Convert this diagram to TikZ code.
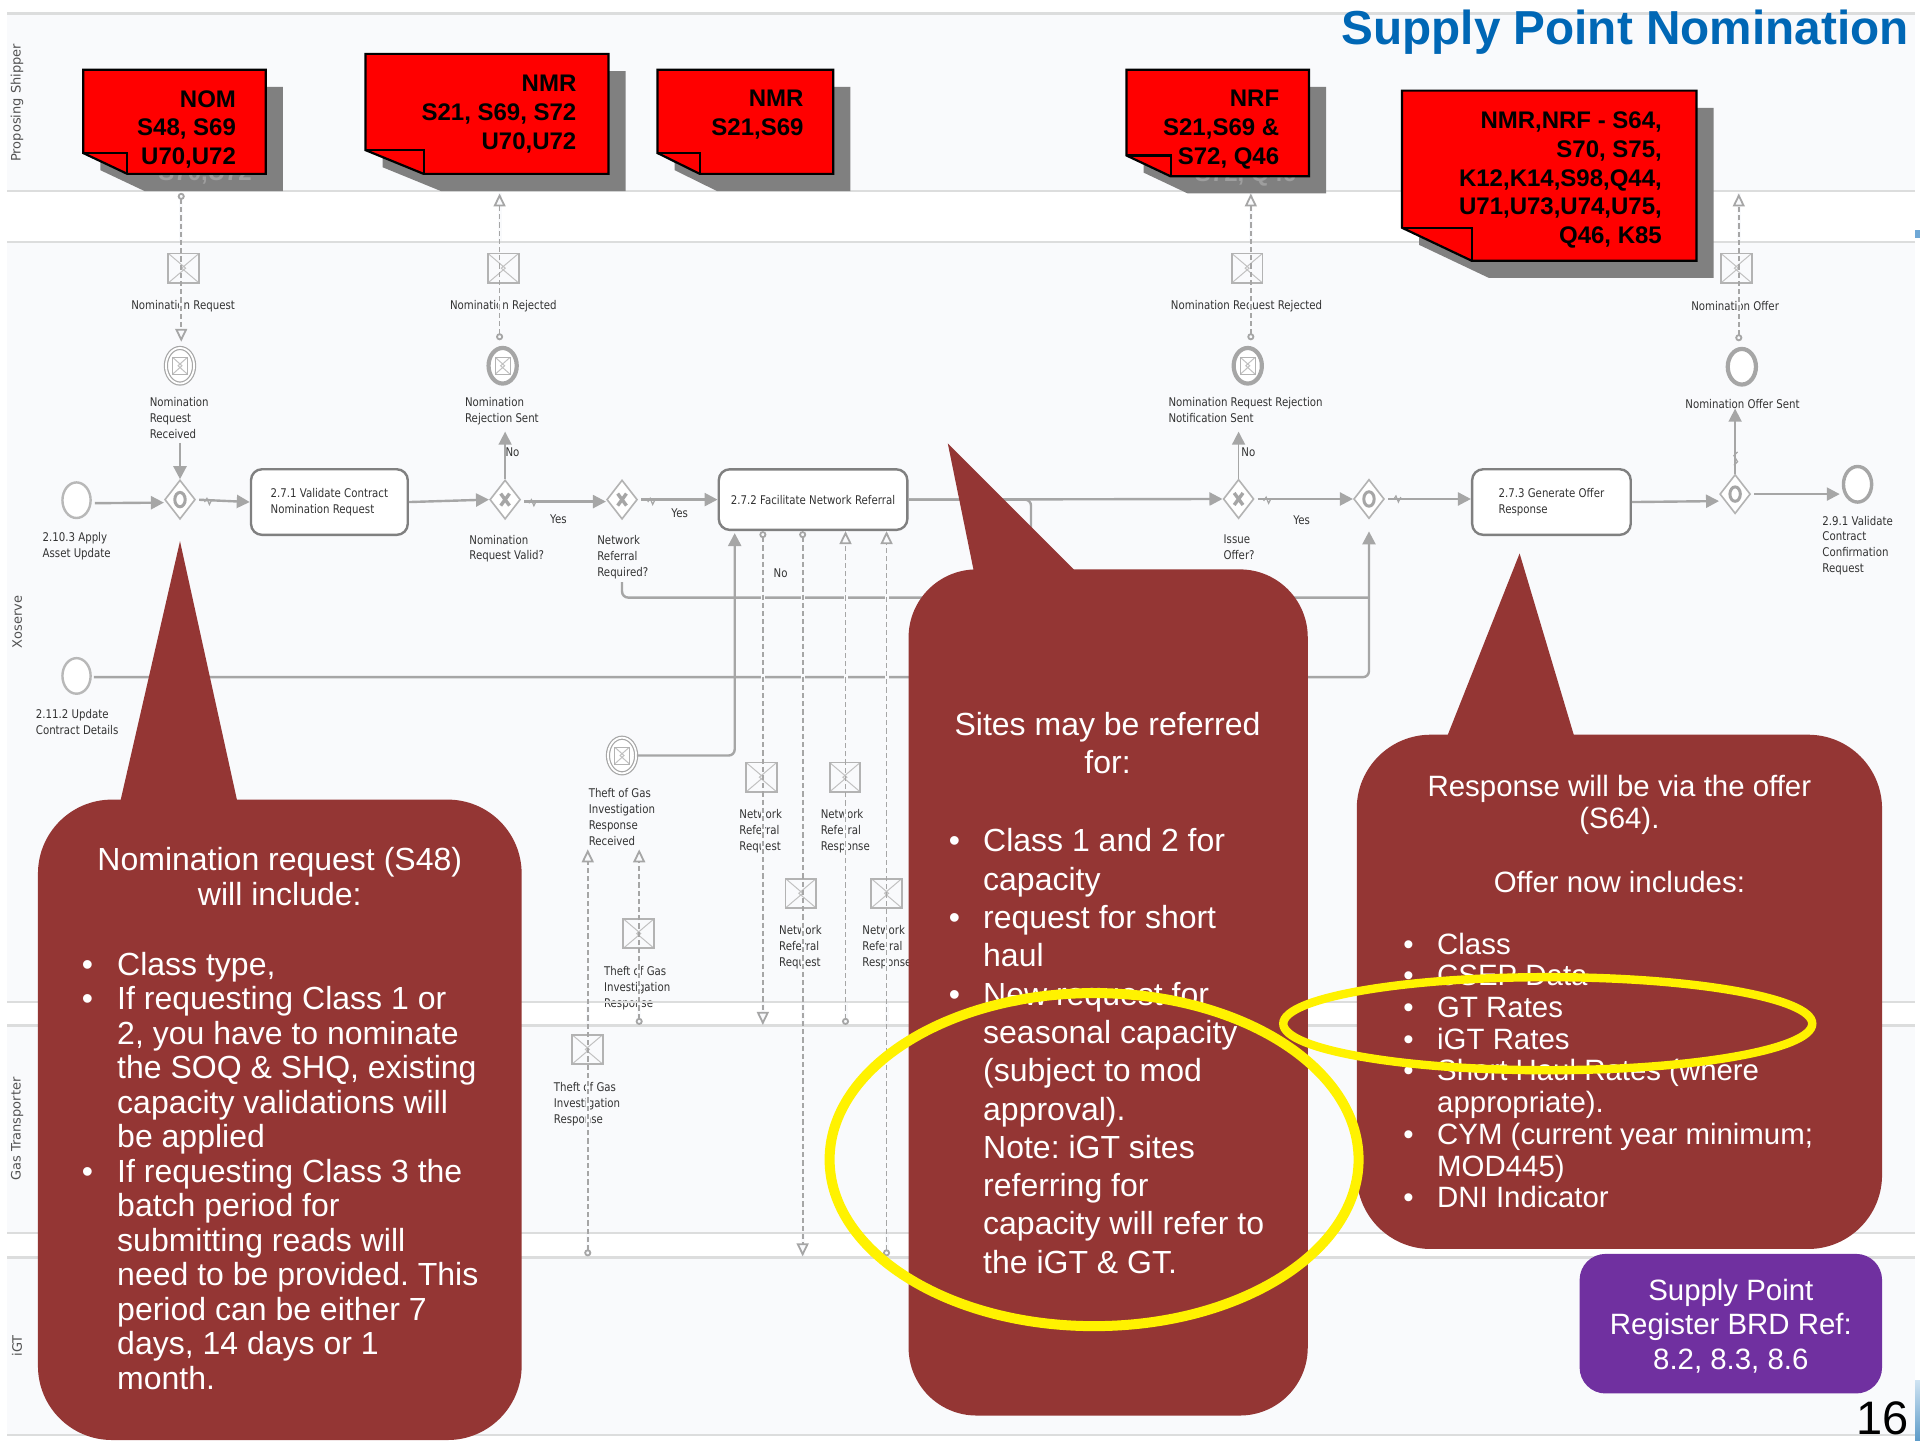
\documentclass[tikz,border=0pt]{standalone}
\usepackage{fontspec}
\setmainfont{Liberation Sans}
\newfontfamily\diafont[FakeStretch=0.85]{DejaVu Sans}
\newfontfamily\lanefont{DejaVu Sans}
\usetikzlibrary{shapes.geometric,arrows.meta,calc}
\definecolor{lanebg}{HTML}{F9FAFC}
\definecolor{laneln}{HTML}{DCDDDD}
\definecolor{bpm}{HTML}{A6A6A6}
\definecolor{bpmdark}{HTML}{808080}
\definecolor{bpmtext}{HTML}{333333}
\definecolor{callred}{HTML}{943634}
\definecolor{notered}{HTML}{FF0000}
\definecolor{noteshadow}{HTML}{808080}
\definecolor{titleblue}{HTML}{0067B5}
\definecolor{purplebox}{HTML}{7030A0}
\definecolor{skytop}{HTML}{CFE3F2}
\definecolor{skybot}{HTML}{5E9CC9}
\definecolor{slidemark}{HTML}{6FA8D6}
\tikzset{
  lab/.style={font=\diafont\fontsize{6}{7.96}\selectfont,inner sep=0pt,align=left,anchor=north west,text=bpmtext},
  labc/.style={font=\diafont\fontsize{6}{7.96}\selectfont,inner sep=0pt,anchor=center,text=bpmtext},
  lanelab/.style={font=\lanefont\fontsize{6.5}{7.5}\selectfont,rotate=90,inner sep=0pt,text=bpmtext!85},
  lanefill/.style={fill=lanebg,draw=none},
  laneline/.style={draw=laneln,line width=1.1pt},
  taskbox/.style={draw=bpmdark,line width=1.2pt,fill=white,rounded corners=5.5pt,align=left,inner sep=0pt,
     font=\diafont\fontsize{6}{7.96}\selectfont,text=bpmtext},
  evbase/.style={ellipse,minimum width=14.1pt,minimum height=17.8pt,inner sep=0pt,fill=white},
  evstart/.style={evbase,draw=bpm!80,line width=1.2pt},
  evcatch/.style={evbase,draw=bpm,line width=.6pt,double=white,double distance=.9pt},
  evthrow/.style={evbase,draw=bpm,line width=2.1pt},
  gw/.style={diamond,aspect=.78,minimum width=15.3pt,minimum height=19.6pt,inner sep=0pt,draw=bpm!85,line width=.8pt,fill=white},
  gwx/.style={gw,path picture={\draw[bpm,line width=1.7pt]
     ($(path picture bounding box.center)+(-2.2pt,-3pt)$)--($(path picture bounding box.center)+(2.2pt,3pt)$)
     ($(path picture bounding box.center)+(-2.2pt,3pt)$)--($(path picture bounding box.center)+(2.2pt,-3pt)$);}},
  gwo/.style={gw,path picture={\draw[bpm,line width=1.5pt](path picture bounding box.center) ellipse (2.6pt and 3.6pt);}},
  envl/.style={rectangle,draw=bpm!85,line width=.95pt,inner sep=0pt,minimum width=15.3pt,minimum height=14.7pt,
     path picture={\draw[bpm!70,line width=.5pt]
     (path picture bounding box.north west)--($(path picture bounding box.center)+(1pt,0)$)--(path picture bounding box.south west)
     (path picture bounding box.north east)--($(path picture bounding box.center)+(-1pt,0)$)--(path picture bounding box.south east);}},
  envs/.style={envl,minimum width=7.5pt,minimum height=8.5pt,line width=.5pt},
  flow/.style={draw=bpm,line width=1.2pt,-{Triangle[length=6.5pt,width=6.5pt]}},
  flowthin/.style={flow,line width=.8pt},
  plainflow/.style={draw=bpm,line width=1.2pt,rounded corners=3pt},
  ticks/.style={draw=bpm,line width=.6pt},
  msgline/.style={draw=bpm,line width=.9pt,dash pattern=on 2.6pt off 1.5pt,
     {Circle[open,fill=lanebg,length=3.5pt,width=3.5pt,sep=0pt]}-{Triangle[open,fill=lanebg,length=6.5pt,width=6pt]}},
  notebody/.style={fill=notered,draw=black,line width=1.1pt,line join=miter},
  noteshade/.style={fill=noteshadow,draw=none},
  notetxt/.style={font=\bfseries\fontsize{12}{14.4}\selectfont,align=right,anchor=north east,inner sep=0pt,text=black},
  ghost/.style={font=\bfseries\fontsize{12}{14.4}\selectfont,anchor=east,inner sep=0pt,text=black!38},
  callfill/.style={fill=callred,draw=none},
  calla/.style={font=\fontsize{16}{17.25}\selectfont,text=white,inner sep=0pt},
  callb/.style={font=\fontsize{16}{19.15}\selectfont,text=white,inner sep=0pt},
  callc/.style={font=\fontsize{14.7}{15.85}\selectfont,text=white,inner sep=0pt},
  ring/.style={draw=yellow,line width=#1,fill=none},
}
% one red sticky note: x1,y1,x2,y2,foldx,foldy
\newcommand{\rednote}[6]{%
  \fill[noteshade,shift={(14,14)}] (#1,#2)--(#3,#2)--(#3,#4)--(#5,#4)--(#1,#6)--cycle;}
\newcommand{\rednotetop}[6]{%
  \path[notebody] (#1,#2)--(#3,#2)--(#3,#4)--(#5,#4)--(#1,#6)--cycle;
  \draw[black,line width=1.1pt] (#1,#6)--(#5,#6)--(#5,#4);}
\newcommand{\ticmark}[2]{\draw[ticks] (#1-3,#2+1)--(#1-1,#2-2)--(#1+1,#2+3)--(#1+3,#2-1);}
\newcommand{\msgflows}{%
  \draw[msgline,shorten >=2.8pt] (c1) -- (c1 |- ev1.north);
  \draw[msgline,shorten <=2.8pt] (c2 |- ev2.north) -- (c2);
  \draw[msgline,shorten <=2.8pt] (c4 |- ev4.north) -- (c4);
  \draw[msgline,shorten <=2.8pt] (c5 |- ev5.north) -- (c5);
  \draw[msgline] (n1 |- tk2.south) -- (n1);
  \draw[msgline] (n3 |- tk2.south) -- (n3);
  \draw[msgline] (n2) -- (n2 |- tk2.south);
  \draw[msgline] (n4) -- (n4 |- tk2.south);
  \draw[msgline] (b1) -- (t1);
  \draw[msgline] (b2) -- (t2);
}
\newlength{\indA}\setlength{\indA}{17.7pt}
\newlength{\indB}\setlength{\indB}{17.2pt}
\newlength{\indC}\setlength{\indC}{16.9pt}
\frenchspacing
\begin{document}
\begin{tikzpicture}[x=0.612245pt,y=-0.612245pt]
\useasboundingbox (0,0) rectangle (1568,1176);
\fill[white] (0,0) rectangle (1568,1176);
% lanes
\fill[lanefill] (6,11) rectangle (1564,156);
\fill[lanefill] (6,197.5) rectangle (1564,818);
\fill[lanefill] (6,837.5) rectangle (1564,1007);
\fill[lanefill] (6,1027) rectangle (1564,1172);
\node[lanelab] (laneA) at (14,84) {Proposing Shipper};
\node[lanelab] (laneB) at (14,508) {Xoserve};
\node[lanelab] (laneC) at (14,922) {Gas Transporter};
\node[lanelab] (laneD) at (14,1099) {iGT};
% coordinates for free ends
\coordinate (c1) at (148,157.5);
\coordinate (c2) at (408,158);
\coordinate (c4) at (1021.5,158);
\coordinate (c5) at (1420,158);
\coordinate (n1) at (623,837);
\coordinate (n2) at (690.5,837);
\coordinate (n3) at (655.5,1026);
\coordinate (n4) at (724,1026);
\coordinate (b1) at (480,1026);
\coordinate (t1) at (480,693.6);
\coordinate (b2) at (522,837);
\coordinate (t2) at (522,693.6);
\coordinate (jt) at (600,440);
\coordinate (jr) at (1118,488);
\coordinate (jc) at (842,470);
% labels
\node[labc] (l1) at (149.5,250) {Nomination Request};
\node[labc] (l2) at (411,250) {Nomination Rejected};
\node[labc] (l3) at (1018,250) {Nomination Request Rejected};
\node[labc] (l4) at (1417,250) {Nomination Offer};
\node[lab] (l5) at (122,324) {Nomination\\Request\\Received};
\node[lab] (l6) at (379.5,324) {Nomination\\Rejection Sent};
\node[lab] (l7) at (954,324) {Nomination Request Rejection\\Notification Sent};
\node[labc] (l8) at (1423,330) {Nomination Offer Sent};
\node[lab] (l9) at (34.5,434.5) {2.10.3 Apply\\Asset Update};
\node[lab] (l10) at (29,579) {2.11.2 Update\\Contract Details};
\node[lab] (l11) at (383,436.5) {Nomination\\Request Valid?};
\node[lab] (l12) at (487.5,437) {Network\\Referral\\Required?};
\node[lab] (l13) at (999,436.5) {Issue\\Offer?};
\node[lab] (l14) at (1488,421) {2.9.1 Validate\\Contract\\Confirmation\\Request};
\node[labc] (y1) at (456,424) {Yes};
\node[labc] (y2) at (555,419.5) {Yes};
\node[labc] (y3) at (1063,424.5) {Yes};
\node[labc] (no1) at (418.5,369) {No};
\node[labc] (no2) at (1019.5,369) {No};
\node[labc] (no3) at (637.5,468) {No};
\node[lab] (l15) at (480.5,643.7) {Theft of Gas\\Investigation\\Response\\Received};
\node[lab] (l16) at (493,789) {Theft of Gas\\Investigation\\Response};
\node[lab] (l17) at (452,883.5) {Theft of Gas\\Investigation\\Response};
\node[lab] (l18) at (603.5,661) {Network\\Referral\\Request};
\node[lab] (l19) at (670,661) {Network\\Referral\\Response};
\node[lab] (l20) at (636,755.6) {Network\\Referral\\Request};
\node[lab] (l21) at (704,755.6) {Network\\Referral\\Response};
% events, gateways, tasks
\node[evstart] (s1) at (62.5,408.5) {};
\node[evstart] (s2) at (62.5,552) {};
\node[evcatch] (ev1) at (147,298.7) {};
\node[evthrow] (ev2) at (410.5,298.7) {};
\node[evthrow] (ev4) at (1019,298.7) {};
\node[evthrow] (ev5) at (1422.5,299.5) {};
\node[evcatch] (ev3) at (508,617) {};
\node[evthrow,line width=1.7pt] (end) at (1517,395.5) {};
\node[gwo] (g1) at (147,408) {};
\node[gwx] (g2) at (412.5,408) {};
\node[gwx] (g3) at (508,408) {};
\node[gwx] (g4) at (1011.5,407.5) {};
\node[gwo] (g5) at (1118,407.5) {};
\node[gwo] (g6) at (1417,403.5) {};
\node[taskbox,minimum width=78.4pt,minimum height=32.8pt] (tk1) at (269,410) {2.7.1 Validate Contract\\Nomination Request};
\node[taskbox,minimum width=94.3pt,minimum height=30.3pt] (tk2) at (664,408) {2.7.2 Facilitate Network Referral};
\node[taskbox,minimum width=79.3pt,minimum height=32.8pt] (tk3) at (1267,410) {2.7.3 Generate Offer\\Response};
% sequence flows
\draw[flow,shorten <=1.5pt] ([yshift=-1.5pt]s1.east) -- ([yshift=-1.5pt]g1.west);
\draw[flow,shorten <=29.4pt] (ev1.south) -- (g1.north);
\draw[flow,shorten <=1.5pt] (g1.east) -- (tk1.west);
\draw[flow] (tk1.east) -- (g2.west);
\draw[flowthin,shorten >=23pt] (g2.north) -- (g2.north |- ev2.south);
\draw[flow,shorten <=1.5pt] ([yshift=-1pt]g2.east) -- ([yshift=-1pt]g3.west);
\draw[flow,shorten <=1.5pt] (g3.east) -- (tk2.west);
\draw[flow] (tk2.east) -- (g4.west);
\draw[plainflow] (tk2.east) -| (jc);
\draw[flowthin,shorten >=23pt] (g4.north) -- (g4.north |- ev4.south);
\draw[flow,shorten <=1.5pt] (g4.east) -- (g5.west);
\draw[flow,shorten <=1.5pt] (g5.east) -- (g5.east -| tk3.west);
\draw[flow] (tk3.east) -- ([yshift=-3.5pt]g6.west);
\draw[flowthin,shorten >=11pt] (g6.north) -- (g6.north |- ev5.south);
\draw[flow,shorten <=1.5pt,shorten >=1pt] (g6.east) -- (g6.east -| end.west);
\draw[flow,rounded corners=3pt,shorten <=1pt,shorten >=6pt] ([yshift=-.6pt]s2.east) -| (g5.south);
\draw[plainflow,shorten <=31pt] (g3.south) |- (jr);
\draw[flow,rounded corners=3pt,shorten >=1pt] (ev3.east) -| (jt |- tk2.south);
\ticmark{170}{409}\ticmark{435}{410}\ticmark{532}{409}\ticmark{1035}{408}\ticmark{1141}{407}
\draw[ticks] (1416,380)--(1419,377)--(1416,372)--(1419,369);
% halos across text, then lane lines
\begin{scope}[msgline/.style={draw=lanebg,line width=2pt}]
\msgflows
\end{scope}
\draw[laneline] (6,11)--(1564,11);
\draw[laneline] (6,156)--(1564,156);
\draw[laneline] (6,197.5)--(1564,197.5);
\draw[laneline] (6,818)--(1564,818);
\draw[laneline] (6,837.5)--(1564,837.5);
\draw[laneline] (6,1007)--(1564,1007);
\draw[laneline] (6,1027)--(1564,1027);
\draw[laneline] (6,1172)--(1564,1172);
% envelopes
\node[envl] (m1) at (150,219) {};
\node[envl] (m2) at (411,219) {};
\node[envl] (m4) at (1018.5,219) {};
\node[envl] (m5) at (1418,219) {};
\node[envl] (m6) at (621.8,634.7) {};
\node[envl] (m7) at (690,634.7) {};
\node[envl] (m8) at (654,729.5) {};
\node[envl] (m9) at (724,729.5) {};
\node[envl] (m10) at (521.6,762.4) {};
\node[envl] (m11) at (479.7,857) {};
\node[envs] (e1) at (ev1) {};
\node[envs] (e2) at (ev2) {};
\node[envs] (e4) at (ev4) {};
\node[envs] (e3) at (ev3) {};
\msgflows
% red notes
\rednote{68}{57}{217}{142}{104}{125}
\rednote{298.5}{44}{497}{142}{346}{122.6}
\rednote{537}{57}{680.5}{142}{571.5}{125}
\rednote{920}{57}{1069}{144}{956}{127}
\rednote{1145}{74}{1385.5}{213}{1202}{186}
\node[ghost] (gh1) at (206,142) {S70,U72};
\node[ghost] (gh2) at (1059,143) {S72, Q46};
\rednotetop{68}{57}{217}{142}{104}{125}
\rednotetop{298.5}{44}{497}{142}{346}{122.6}
\rednotetop{537}{57}{680.5}{142}{571.5}{125}
\rednotetop{920}{57}{1069}{144}{956}{127}
\rednotetop{1145}{74}{1385.5}{213}{1202}{186}
\node[notetxt] (nt1) at (193,73.5) {NOM\\S48, S69\\U70,U72};
\node[notetxt] (nt2) at (471,61) {NMR\\S21, S69, S72\\U70,U72};
\node[notetxt] (nt3) at (656.5,73.5) {NMR\\S21,S69};
\node[notetxt] (nt4) at (1045,73.5) {NRF\\S21,S69 \&\\S72, Q46};
\node[notetxt] (nt5) at (1357.5,91) {NMR,NRF - S64,\\S70, S75,\\K12,K14,S98,Q44,\\U71,U73,U74,U75,\\Q46, K85};
% title
\node[font=\bfseries\fontsize{23.85}{26}\selectfont,text=titleblue,anchor=east,inner sep=0pt] (title) at (1559,26) {Supply Point Nomination};
% callouts
\fill[callfill,rounded corners=37pt] (31,653) rectangle (426,1176);
\fill[callfill] (147,442)--(97,660)--(195,660)--cycle;
\fill[callfill,rounded corners=34pt] (742,465) rectangle (1068,1156);
\fill[callfill] (774,362)--(797,475)--(877,475)--(877,465)--cycle;
\fill[callfill,rounded corners=37pt] (1108,600) rectangle (1537,1020);
\fill[callfill] (1241,452)--(1180,606)--(1287,606)--cycle;
\fill[purplebox,rounded corners=13pt] (1290,1024) rectangle (1537,1138);
% callout text
\node[calla,align=center,anchor=north] (ca1) at (228.5,692) {Nomination request (S48)\\will include:};
\node[calla,align=left,anchor=north west] (ca2) at (66.5,777) {%
\makebox[\indA][l]{•}Class type,\\
\makebox[\indA][l]{•}If requesting Class 1 or\\
\hspace*{\indA}2, you have to nominate\\
\hspace*{\indA}the SOQ \& SHQ, existing\\
\hspace*{\indA}capacity validations will\\
\hspace*{\indA}be applied\\
\makebox[\indA][l]{•}If requesting Class 3 the\\
\hspace*{\indA}batch period for\\
\hspace*{\indA}submitting reads will\\
\hspace*{\indA}need to be provided. This\\
\hspace*{\indA}period can be either 7\\
\hspace*{\indA}days, 14 days or 1\\
\hspace*{\indA}month.};
\node[callb,align=center,anchor=north] (cb1) at (904.5,581.5) {Sites may be referred\\for:};
\node[callb,align=left,anchor=north west] (cb2) at (774.5,676.5) {%
\makebox[\indB][l]{•}Class 1 and 2 for\\
\hspace*{\indB}capacity\\
\makebox[\indB][l]{•}request for short\\
\hspace*{\indB}haul\\
\makebox[\indB][l]{•}New request for\\
\hspace*{\indB}seasonal capacity\\
\hspace*{\indB}(subject to mod\\
\hspace*{\indB}approval).\\
\hspace*{\indB}Note: iGT sites\\
\hspace*{\indB}referring for\\
\hspace*{\indB}capacity will refer to\\
\hspace*{\indB}the iGT \& GT.};
\node[callc,align=center,anchor=north] (cc1) at (1322.5,633) {Response will be via the offer\\(S64).};
\node[callc,anchor=north] (cc2) at (1322.5,711) {Offer now includes:};
\node[callc,align=left,anchor=north west] (cc3) at (1145.8,761.5) {%
\makebox[\indC][l]{•}Class\\
\makebox[\indC][l]{•}CSEP Data\\
\makebox[\indC][l]{•}GT Rates\\
\makebox[\indC][l]{•}iGT Rates\\
\makebox[\indC][l]{•}Short Haul Rates (where\\
\hspace*{\indC}appropriate).\\
\makebox[\indC][l]{•}CYM (current year minimum;\\
\hspace*{\indC}MOD445)\\
\makebox[\indC][l]{•}DNI Indicator};
\node[font=\fontsize{14.7}{17.4}\selectfont,text=white,inner sep=0pt,align=center,anchor=north] (pb) at (1413.5,1044) {Supply Point\\Register BRD Ref:\\8.2, 8.3, 8.6};
% yellow rings
\draw[ring=5pt] (893.5,947) ellipse (216 and 136);
\draw[ring=4.2pt] (1264,836) ellipse (216 and 38);
% page number and slide marks
\fill[slidemark] (1563.5,188) rectangle (1568,194);
\shade[top color=skytop,bottom color=skybot] (1564,1127) rectangle (1568,1176);
\node[font=\fontsize{23.5}{25}\selectfont,text=black,anchor=east,inner sep=0pt] (pg) at (1559,1158.5) {16};
\end{tikzpicture}
\end{document}
